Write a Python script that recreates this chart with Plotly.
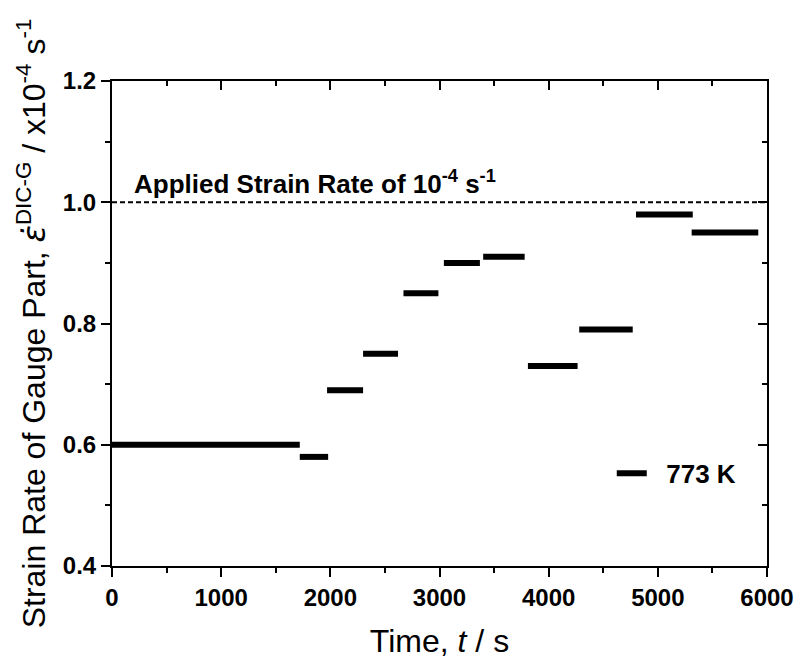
import plotly.graph_objects as go

# Data: constant strain-rate segments (time in s, rate in x10^-4 s^-1)
seg_start = [0, 1720, 1970, 2300, 2670, 3040, 3400, 3810, 4280, 4800, 5310]
seg_end = [1720, 1980, 2300, 2620, 2990, 3370, 3780, 4265, 4770, 5320, 5920]
seg_rate = [0.60, 0.58, 0.69, 0.75, 0.85, 0.90, 0.91, 0.73, 0.79, 0.98, 0.95]

applied_time = [0, 6000]
applied_rate = [1.0, 1.0]

x_ticks = [0, 1000, 2000, 3000, 4000, 5000, 6000]
y_ticks = [0.4, 0.6, 0.8, 1.0, 1.2]

xs, ys = [], []
for s, e, r in zip(seg_start, seg_end, seg_rate):
    xs += [s, e, None]
    ys += [r, r, None]

FONT = "Liberation Sans, Arial, sans-serif"

fig = go.Figure()
fig.add_trace(go.Scatter(x=applied_time, y=applied_rate, mode="lines",
                         line=dict(color="black", width=2, dash="5px,3px"),
                         showlegend=False, hoverinfo="skip"))
fig.add_trace(go.Scatter(x=xs, y=ys, mode="lines", name="\u00a0\u00a0773 K",
                         line=dict(color="black", width=6), connectgaps=False))
# empty trace for mirrored axes
fig.add_trace(go.Scatter(x=[None], y=[None], xaxis="x2", yaxis="y2",
                         showlegend=False, hoverinfo="skip"))

axis_common = dict(showline=True, linecolor="black", linewidth=2, showgrid=False,
                   zeroline=False, tickcolor="black", tickwidth=2)

ytitle = ("Strain Rate of Gauge Part, "
          "<span style=\"font-family:DejaVu Sans\"><i>\u03b5\u0307</i></span>"
          "<sup>DIC-G</sup> / x10<sup>-4</sup> s<sup>-1</sup>")

fig.update_layout(
    width=798, height=657,
    margin=dict(l=104, r=36, t=73, b=98),
    paper_bgcolor="white", plot_bgcolor="white",
    font=dict(family=FONT, color="black"),
    xaxis=dict(range=[0, 6000], tickvals=x_ticks, ticks="outside", ticklen=9,
               tickfont=dict(size=24, family=FONT, weight="bold"),
               minor=dict(dtick=500, ticks="outside", ticklen=5, tickwidth=2, tickcolor="black"),
               title=dict(text="Time, <i>t</i> / s", font=dict(size=32), standoff=20),
               **axis_common),
    yaxis=dict(range=[0.4, 1.2], tickvals=y_ticks, tickformat=".1f", ticks="outside", ticklen=9,
               tickfont=dict(size=24, family=FONT, weight="bold"),
               minor=dict(dtick=0.1, ticks="outside", ticklen=5, tickwidth=2, tickcolor="black"),
               title=dict(text=ytitle, font=dict(size=32), standoff=8),
               **axis_common),
    xaxis2=dict(range=[0, 6000], overlaying="x", side="top", anchor="y",
                tickvals=x_ticks, ticks="inside", ticklen=9, showticklabels=False,
                minor=dict(dtick=500, ticks="inside", ticklen=5, tickwidth=2, tickcolor="black"),
                **axis_common),
    yaxis2=dict(range=[0.4, 1.2], overlaying="y", side="right", anchor="x",
                tickvals=y_ticks, ticks="inside", ticklen=9, showticklabels=False,
                minor=dict(dtick=0.1, ticks="inside", ticklen=5, tickwidth=2, tickcolor="black"),
                **axis_common),
    legend=dict(x=0.763, y=0.191, xanchor="left", yanchor="middle",
                bgcolor="rgba(0,0,0,0)", itemwidth=30,
                font=dict(size=26, family=FONT, weight="bold")),
    annotations=[dict(x=180, y=1.0, xref="x", yref="y", xanchor="left", yanchor="bottom",
                      text="Applied Strain Rate of 10<sup>-4</sup> s<sup>-1</sup>",
                      showarrow=False, yshift=1,
                      font=dict(size=26, family=FONT, weight="bold"))],
)

fig.write_html("out.html")
